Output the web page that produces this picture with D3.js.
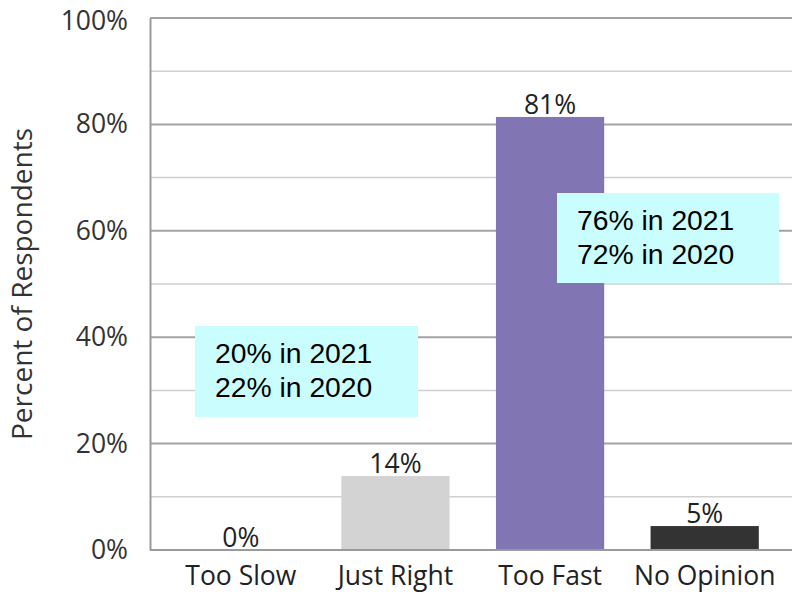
<!DOCTYPE html>
<html><head><meta charset="utf-8">
<script src="https://cdn.jsdelivr.net/npm/d3@7"></script>
<style>body{margin:0;background:#fff}svg{display:block}</style>
</head><body>
<svg id="c" width="792" height="596"></svg>
<script>
const categories = ["Too Slow", "Just Right", "Too Fast", "No Opinion"];
const values = [0, 13.9, 81.4, 4.5];
const valueLabels = ["0%", "14%", "81%", "5%"];
const barColors = ["#d3d3d3", "#d3d3d3", "#8175b3", "#333333"];
const yTicks = [0, 20, 40, 60, 80, 100];
const yMinor = [10, 30, 50, 70, 90];
const yTitle = "Percent of Respondents";
const notes = [
  {lines: ["20% in 2021", "22% in 2020"], cat: "Too Slow"},
  {lines: ["76% in 2021", "72% in 2020"], cat: "Too Fast"}
];

const svg = d3.select("#c");
const pL = 150, pR = 792, pT = 18, pB = 550;
const x = d3.scaleBand().domain(categories).range([163.5, 782]).paddingInner(0.3).paddingOuter(0.15);
const y = d3.scaleLinear().domain([0, 100]).range([pB, pT]);
const font = "'Open Sans', sans-serif";

// minor grid
svg.append("g").selectAll("line").data(yMinor).join("line")
  .attr("x1", pL).attr("x2", pR).attr("y1", d => y(d)).attr("y2", d => y(d))
  .attr("stroke", "#d0d0d0").attr("stroke-width", 1.5);
// major grid
svg.append("g").selectAll("line").data(yTicks.filter(d => d > 0)).join("line")
  .attr("x1", pL).attr("x2", pR).attr("y1", d => y(d)).attr("y2", d => y(d))
  .attr("stroke", "#a3a3a3").attr("stroke-width", 2);

// y axis
const ya = svg.append("g").attr("transform", `translate(${pL},0)`)
  .call(d3.axisLeft(y).tickValues(yTicks).tickFormat(d => d + "%").tickSize(0).tickPadding(22));
ya.select(".domain").attr("stroke", "#9a9a9a").attr("stroke-width", 2);
ya.selectAll("text").attr("font-family", font).attr("font-size", 26.5).attr("fill", "#333");
ya.selectAll(".tick").filter(d => d === 100).select("text").attr("dy", "0.42em");

// bars
svg.append("g").selectAll("rect").data(categories).join("rect")
  .attr("x", d => x(d)).attr("width", x.bandwidth())
  .attr("y", (d, i) => y(values[i])).attr("height", (d, i) => y(0) - y(values[i]))
  .attr("fill", (d, i) => barColors[i]);

// x axis
const xa = svg.append("g").attr("transform", `translate(0,${pB})`)
  .call(d3.axisBottom(x).tickSize(0).tickPadding(16));
xa.select(".domain").remove();
svg.append("line").attr("x1", pL).attr("x2", pR).attr("y1", pB).attr("y2", pB)
  .attr("stroke", "#9a9a9a").attr("stroke-width", 2);
xa.selectAll("text").attr("font-family", font).attr("font-size", 26.5).attr("fill", "#222");

// value labels
svg.append("g").selectAll("text").data(categories).join("text")
  .attr("x", d => x(d) + x.bandwidth() / 2).attr("y", (d, i) => y(values[i]) - 3)
  .attr("text-anchor", "middle").attr("font-family", font).attr("font-size", 26.5)
  .attr("fill", "#222").text((d, i) => valueLabels[i]);

// y title
svg.append("text").attr("transform", `translate(32,284) rotate(-90)`)
  .attr("text-anchor", "middle").attr("font-family", font).attr("font-size", 28)
  .attr("fill", "#333").text(yTitle);

// annotation boxes
const boxes = [
  {x: 195, y: 326, w: 223, h: 91},
  {x: 557, y: 193, w: 222, h: 90}
];
notes.forEach((n, i) => {
  const b = boxes[i];
  const g = svg.append("g");
  g.append("rect").attr("x", b.x).attr("y", b.y).attr("width", b.w).attr("height", b.h).attr("fill", "#c9fdfe");
  n.lines.forEach((t, j) => {
    g.append("text").attr("x", b.x + 20).attr("y", b.y + 37 + j * 34)
      .attr("font-family", "'Liberation Sans', Arial, sans-serif").attr("font-size", 28.3)
      .attr("fill", "#000").text(t);
  });
});
</script>
</body></html>
